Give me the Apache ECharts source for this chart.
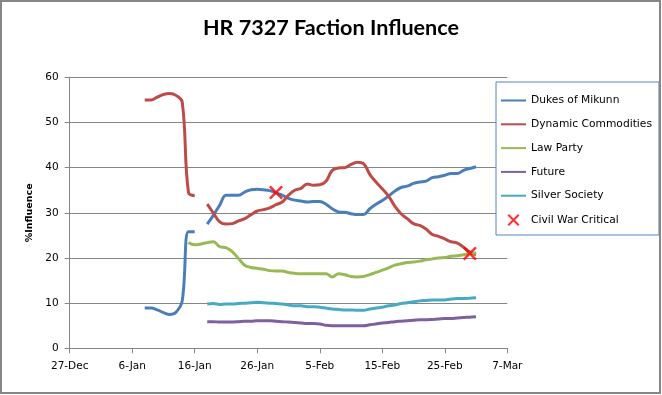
<!DOCTYPE html>
<html>
<head>
<meta charset="utf-8">
<script src="https://cdn.jsdelivr.net/npm/echarts@6/dist/echarts.min.js"></script>
<style>
html,body{margin:0;padding:0;background:#fff;}
#chart{width:662px;height:395px;}
</style>
</head>
<body>
<div id="chart"></div>
<script>
// ---- data ----
var axisStartDate = '2014-12-27';
var firstDataDate = '2015-01-08';
var tickLabels = ['27-Dec','6-Jan','16-Jan','26-Jan','5-Feb','15-Feb','25-Feb','7-Mar'];
var seriesNames = ['Dukes of Mikunn','Dynamic Commodities','Law Party','Future','Silver Society','Civil War Critical'];

// daily values from 8-Jan to 2-Mar (null = no data)
var dukes = [8.9,8.9,8.5,7.9,7.5,8.0,10.5,25.8,25.8,null,
  27.5,29.5,31.7,33.9,33.9,33.9,34.6,35.1,35.2,35.1,34.9,34.4,33.9,33.2,32.8,32.6,32.4,32.5,32.5,31.9,
  30.9,30.2,30.1,29.8,29.6,29.6,30.9,31.9,32.7,33.7,34.8,35.6,35.9,36.5,36.8,37.0,37.8,38.0,38.3,38.7,
  38.7,39.4,39.8,40.2];
var dynamic = [55.0,55.0,55.6,56.2,56.4,56.0,54.5,34.5,33.8,null,
  31.9,29.9,28.0,27.5,27.6,28.2,28.7,29.6,30.4,30.7,31.1,31.8,32.4,33.9,35.0,35.4,36.4,36.1,36.2,37.0,
  39.4,39.9,40.0,40.7,41.2,40.9,38.5,36.8,35.3,33.7,31.5,29.8,28.7,27.6,27.2,26.4,25.2,24.8,24.2,23.6,
  23.3,22.4,21.3,20.7];
var lawParty = [null,null,null,null,null,null,null,23.4,22.9,23.1,
  23.4,23.6,22.5,22.3,21.4,19.9,18.4,17.9,17.7,17.5,17.2,17.1,17.1,16.8,16.6,16.5,16.5,16.5,16.5,16.5,
  15.8,16.5,16.3,15.9,15.8,15.9,16.3,16.8,17.3,17.8,18.4,18.7,19.0,19.1,19.3,19.6,19.8,20.0,20.1,20.4,
  20.5,20.7,21.0,21.1];
var future = [null,null,null,null,null,null,null,null,null,null,
  5.9,5.9,5.8,5.8,5.8,5.9,6.0,6.0,6.1,6.1,6.1,6.0,5.9,5.8,5.7,5.6,5.5,5.5,5.4,5.1,
  5.0,5.0,5.0,5.0,5.0,5.0,5.2,5.4,5.6,5.7,5.9,6.0,6.1,6.2,6.3,6.3,6.4,6.5,6.6,6.6,
  6.7,6.8,6.9,7.0];
var silver = [null,null,null,null,null,null,null,null,null,null,
  9.8,9.9,9.7,9.8,9.8,9.9,10.0,10.1,10.2,10.1,10.0,9.9,9.8,9.6,9.4,9.4,9.2,9.2,9.1,8.9,
  8.7,8.6,8.5,8.5,8.4,8.4,8.7,8.9,9.1,9.4,9.6,9.9,10.1,10.3,10.5,10.6,10.7,10.7,10.7,10.9,
  11.0,11.0,11.1,11.2];
var civilWarDates = ['2015-01-29','2015-03-01'];
var civilWarValues = [34.5, 21.0];

// ---- build ----
var DAY = 86400000;
function dayOf(s){ return Math.round((Date.parse(s) - Date.parse(axisStartDate)) / DAY); }
var firstDay = dayOf(firstDataDate);
function pairs(arr){
  return arr.map(function(v,i){ return [firstDay + i, v === null ? '-' : v]; });
}
var colors = ['#4a7ebb','#be4b48','#98b954','#7d60a0','#46aac5'];
var lineData = [dukes, dynamic, lawParty, future, silver];

var X_PATH = 'path://M2.5,0 L10,7.5 L17.5,0 L20,2.5 L12.5,10 L20,17.5 L17.5,20 L10,12.5 L2.5,20 L0,17.5 L7.5,10 L0,2.5 Z';

var series = lineData.map(function(arr, k){
  return {
    name: seriesNames[k], type: 'line', data: pairs(arr),
    symbol: 'none', smooth: 0.4, connectNulls: false,
    lineStyle: {color: colors[k], width: 3},
    itemStyle: {color: colors[k]},
    emphasis: {disabled: true}, z: 2
  };
});
series.push({
  name: seriesNames[5], type: 'scatter',
  data: civilWarDates.map(function(d,i){ return [dayOf(d), civilWarValues[i]]; }),
  symbol: X_PATH, symbolSize: 14,
  itemStyle: {color: '#ff0000'}, z: 5
});

var legendData = seriesNames.map(function(n, k){
  if (k < 5) return {name: n, itemStyle: {opacity: 0}};
  return {name: n};
});

var FONT = 'DejaVu Sans';
var chart = echarts.init(document.getElementById('chart'), null, {renderer: 'canvas'});
chart.setOption({
  animation: false,
  backgroundColor: '#ffffff',
  title: {
    text: 'HR 7327 Faction Influence', left: 'center', top: 12,
    textStyle: {fontFamily: 'Lato', fontWeight: 'bold', fontSize: 21.6, color: '#000'}
  },
  legend: {
    orient: 'vertical', left: 496, top: 82,
    padding: [13, 7, 9, 4], itemGap: 12.8, itemWidth: 25, itemHeight: 12,
    borderColor: '#5b84c4', borderWidth: 1, backgroundColor: '#ffffff',
    textStyle: {fontFamily: FONT, fontSize: 10.7, color: '#000'},
    data: legendData
  },
  grid: {left: 69.7, right: 154.7, top: 77.3, bottom: 46.7, containLabel: false},
  xAxis: {
    type: 'value', min: 0, max: 70, interval: 10,
    axisLine: {lineStyle: {color: '#868686', width: 1}},
    axisTick: {show: true, length: 5, lineStyle: {color: '#868686'}},
    splitLine: {show: false},
    axisLabel: {
      margin: 12, color: '#000', fontFamily: FONT, fontSize: 10.5,
      formatter: function(v){ return tickLabels[Math.round(v/10)] || ''; }
    }
  },
  yAxis: {
    type: 'value', min: 0, max: 60, interval: 10,
    name: '%Influence', nameLocation: 'middle', nameGap: 22,
    nameTextStyle: {fontFamily: FONT, fontWeight: 'bold', fontSize: 9.5, color: '#000'},
    axisLine: {show: true, lineStyle: {color: '#868686', width: 1}},
    axisTick: {show: true, length: 5, lineStyle: {color: '#868686'}},
    splitLine: {show: true, lineStyle: {color: '#868686', width: 1}},
    axisLabel: {margin: 11, color: '#000', fontFamily: FONT, fontSize: 10.5}
  },
  graphic: [{
    type: 'rect', silent: true, z: 100,
    shape: {x: 1, y: 1, width: 659, height: 392},
    style: {fill: 'none', stroke: '#868686', lineWidth: 2}
  }],
  series: series
});
</script>
</body>
</html>
